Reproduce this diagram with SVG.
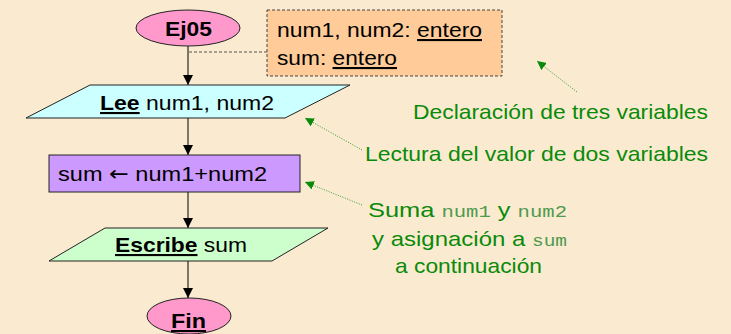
<svg xmlns="http://www.w3.org/2000/svg" width="731" height="334" viewBox="0 0 731 334">
<style>
.t{font-family:"Liberation Sans",Arial,sans-serif;font-size:21px;fill:#000}
.b{font-weight:bold;text-decoration:underline}
.u{text-decoration:underline}
.g{font-family:"Liberation Sans",Arial,sans-serif;font-size:21px;fill:#0A8A0A}
.m{font-family:"Liberation Mono","Courier New",monospace;fill:#4E9A4E;font-size:17px}
.ar{font-family:"DejaVu Sans",sans-serif}
.sh{stroke:#222;stroke-width:1}
.flow{stroke:#000;stroke-width:1;fill:none;marker-end:url(#ah)}
.note{stroke:#2E9A2E;stroke-width:1;stroke-dasharray:1 1.5;fill:none;marker-end:url(#gh)}
</style>
<defs>
<marker id="ah" viewBox="0 0 10 10" refX="10" refY="5" markerWidth="10" markerHeight="10" markerUnits="userSpaceOnUse" orient="auto"><path d="M0,0 L10,5 L0,10 z" fill="#000"/></marker>
<marker id="gh" viewBox="0 0 10 10" refX="10" refY="5" markerWidth="9" markerHeight="9" markerUnits="userSpaceOnUse" orient="auto"><path d="M0,0 L10,5 L0,10 z" fill="#0A8A0A"/></marker>
</defs>
<rect width="731" height="334" fill="#FAEBD0"/>
<g id="connectors">
<path class="flow" d="M188,46 V85"/>
<path class="flow" d="M188,118 V155"/>
<path class="flow" d="M188,192 V228"/>
<path class="flow" d="M188,261 V298"/>
<path d="M189,52 H267" stroke="#555" stroke-width="1" stroke-dasharray="3 2" fill="none"/>
<path class="note" d="M577,92 L537,61"/>
<path class="note" d="M362,150 L305,118"/>
<path class="note" d="M362,205 L305,182"/>
</g>
<g id="decl">
<rect x="267" y="10" width="235" height="66" fill="#FFCC99" stroke="#444" stroke-width="1" stroke-dasharray="3 2"/>
<text class="t" x="277" y="37" textLength="205" lengthAdjust="spacingAndGlyphs">num1, num2: <tspan class="u">entero</tspan></text>
<text class="t" x="277" y="65" textLength="120" lengthAdjust="spacingAndGlyphs">sum: <tspan class="u">entero</tspan></text>
</g>
<g id="ej05">
<ellipse cx="188" cy="28" rx="52" ry="18" fill="#FF99CC" class="sh"/>
<text class="t" x="165" y="36" font-weight="bold" textLength="47" lengthAdjust="spacingAndGlyphs">Ej05</text>
</g>
<g id="lee">
<polygon points="90,85 350,85 285,118 26,118" fill="#CCFFFF" class="sh"/>
<text class="t" x="100" y="110" textLength="174" lengthAdjust="spacingAndGlyphs"><tspan class="b">Lee</tspan> num1, num2</text>
</g>
<g id="asig">
<rect x="49" y="155" width="251" height="37" fill="#CC99FF" class="sh"/>
<text class="t" x="58" y="181" textLength="209" lengthAdjust="spacingAndGlyphs">sum <tspan class="ar">←</tspan> num1+num2</text>
</g>
<g id="escribe">
<polygon points="105,228 328,228 272,261 49,261" fill="#CCFFCC" class="sh"/>
<text class="t" x="115" y="252" textLength="132" lengthAdjust="spacingAndGlyphs"><tspan class="b">Escribe</tspan> sum</text>
</g>
<g id="fin">
<ellipse cx="189" cy="316" rx="42" ry="18" fill="#FF99CC" class="sh"/>
<text class="t b" x="171" y="328" textLength="35" lengthAdjust="spacingAndGlyphs">Fin</text>
</g>
<g id="notes">
<text class="g" x="413" y="119" textLength="295" lengthAdjust="spacingAndGlyphs">Declaración de tres variables</text>
<text class="g" x="365" y="161" textLength="343" lengthAdjust="spacingAndGlyphs">Lectura del valor de dos variables</text>
<text class="g" x="368" y="217" textLength="199" lengthAdjust="spacingAndGlyphs">Suma <tspan class="m">num1</tspan> y <tspan class="m">num2</tspan></text>
<text class="g" x="372" y="246" textLength="195" lengthAdjust="spacingAndGlyphs">y asignación a <tspan class="m">sum</tspan></text>
<text class="g" x="395" y="273" textLength="147" lengthAdjust="spacingAndGlyphs">a continuación</text>
</g>
</svg>
